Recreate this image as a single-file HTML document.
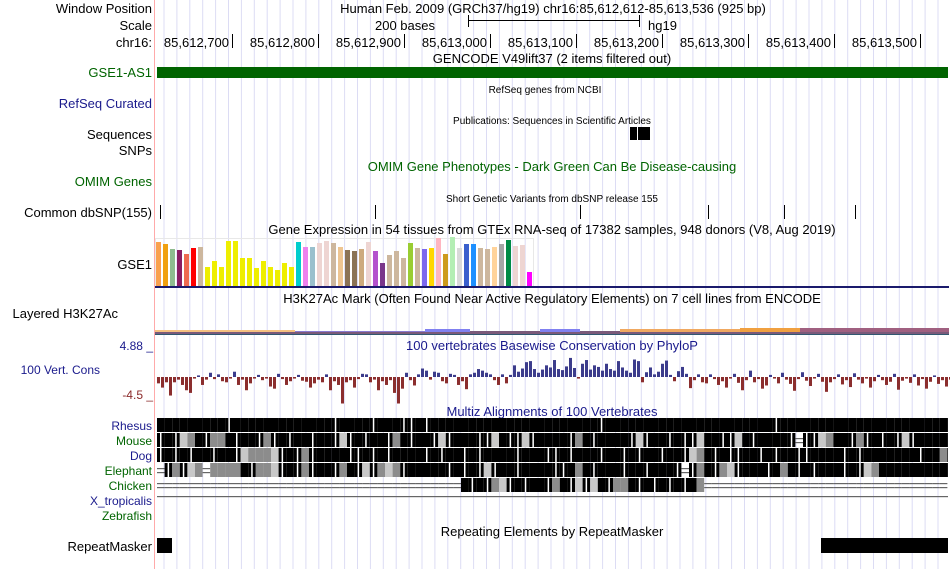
<!DOCTYPE html>
<html><head><meta charset="utf-8"><style>
body{margin:0;width:950px;height:569px;background:#fff;overflow:hidden;font-family:"Liberation Sans",sans-serif}
svg text{font-family:"Liberation Sans",sans-serif}
</style></head><body>
<svg id="g" width="950" height="569" xmlns="http://www.w3.org/2000/svg">
<g id="grid"></g>
<line x1="154.5" y1="0" x2="154.5" y2="569" stroke="#ffaaaa"/>
<g font-size="13" text-anchor="end">
<text x="152" y="13">Window Position</text>
<text x="152" y="30">Scale</text>
<text x="152" y="47">chr16:</text>
<text x="152" y="77" fill="#006400">GSE1-AS1</text>
<text x="152" y="108" fill="#1a1a8c">RefSeq Curated</text>
<text x="152" y="139">Sequences</text>
<text x="152" y="155">SNPs</text>
<text x="152" y="186" fill="#006400">OMIM Genes</text>
<text x="152" y="217">Common dbSNP(155)</text>
<text x="152" y="269">GSE1</text>
<text x="118" y="318">Layered H3K27Ac</text>
<text x="153" y="350" font-size="12" fill="#1a1a8c">4.88 _</text>
<text x="100" y="374" font-size="12" fill="#1a1a8c">100 Vert. Cons</text>
<text x="153" y="399" font-size="12" fill="#8b2a2a">-4.5 _</text>
<text x="152" y="430" font-size="12" fill="#1a1a8c">Rhesus</text>
<text x="152" y="445" font-size="12" fill="#006400">Mouse</text>
<text x="152" y="460" font-size="12" fill="#1a1a8c">Dog</text>
<text x="152" y="475" font-size="12" fill="#006400">Elephant</text>
<text x="152" y="490" font-size="12" fill="#006400">Chicken</text>
<text x="152" y="505" font-size="12" fill="#1a1a8c">X_tropicalis</text>
<text x="152" y="520" font-size="12" fill="#006400">Zebrafish</text>
<text x="152" y="551">RepeatMasker</text>
</g>
<g font-size="13" text-anchor="middle">
<text x="553" y="13">Human Feb. 2009 (GRCh37/hg19)   chr16:85,612,612-85,613,536 (925 bp)</text>
<text x="435" y="30" text-anchor="end">200 bases</text>
<text x="648" y="30" text-anchor="start">hg19</text>
<text x="552" y="63">GENCODE V49lift37 (2 items filtered out)</text>
<text x="545" y="93" font-size="10">RefSeq genes from NCBI</text>
<text x="552" y="124" font-size="10">Publications: Sequences in Scientific Articles</text>
<text x="552" y="171" fill="#006400">OMIM Gene Phenotypes - Dark Green Can Be Disease-causing</text>
<text x="552" y="202" font-size="10">Short Genetic Variants from dbSNP release 155</text>
<text x="552" y="234">Gene Expression in 54 tissues from GTEx RNA-seq of 17382 samples, 948 donors (V8, Aug 2019)</text>
<text x="552" y="303">H3K27Ac Mark (Often Found Near Active Regulatory Elements) on 7 cell lines from ENCODE</text>
<text x="552" y="350" fill="#1a1a8c">100 vertebrates Basewise Conservation by PhyloP</text>
<text x="552" y="416" fill="#1a1a8c">Multiz Alignments of 100 Vertebrates</text>
<text x="552" y="536">Repeating Elements by RepeatMasker</text>
</g>
<line x1="468" y1="20.5" x2="640" y2="20.5" stroke="#000"/>
<line x1="468.5" y1="15" x2="468.5" y2="27" stroke="#000"/>
<line x1="639.5" y1="15" x2="639.5" y2="27" stroke="#000"/>
<g id="ruler" font-size="13" text-anchor="end"></g>
<rect x="157" y="67" width="791" height="11" fill="#006400"/>
<rect x="630" y="127" width="20" height="13" fill="#000"/>
<line x1="637.5" y1="127" x2="637.5" y2="140" stroke="#fff"/>
<g id="snps"></g>
<rect x="155.5" y="238.5" width="378" height="49" fill="none" stroke="#e8e8e8"/>
<g id="gtex"></g>
<rect x="155" y="286" width="794" height="2" fill="#1a1a6c"/>
<g>
<rect x="155" y="331" width="794" height="3" fill="#7a5a7a"/>
<rect x="155" y="330" width="140" height="2" fill="#f5c080"/>
<rect x="295" y="331" width="130" height="1" fill="#8a7ad0"/>
<rect x="425" y="329" width="45" height="3" fill="#8080f0"/>
<rect x="540" y="329" width="40" height="3" fill="#8080f0"/>
<rect x="620" y="329" width="120" height="3" fill="#f0a860"/>
<rect x="740" y="328" width="60" height="4" fill="#f0a040"/>
<rect x="800" y="328" width="149" height="4" fill="#a06080"/>
<rect x="155" y="334" width="794" height="1" fill="#305870"/>
</g>
<g id="cons"></g>
<g id="multiz"></g>
<rect x="157" y="538" width="15" height="15" fill="#000"/>
<rect x="821" y="538" width="127" height="15" fill="#000"/>
</svg>
<script>
const NS="http://www.w3.org/2000/svg";
function mk(p,t,a){const e=document.createElementNS(NS,t);for(const k in a)e.setAttribute(k,a[k]);p.appendChild(e);return e;}
const grid=document.getElementById('grid');
for(let x=164;x<950;x+=12.9){const l=mk(grid,'line',{x1:x,y1:0,x2:x,y2:569,stroke:'#dcdcf4'});

}
const rulerLabels=["85,612,700","85,612,800","85,612,900","85,613,000","85,613,100","85,613,200","85,613,300","85,613,400","85,613,500"];
const rulerPos=[700,800,900,1000,1100,1200,1300,1400,1500];
const bpX=v=>232+(v-700)*0.86;
const ruler=document.getElementById('ruler');
rulerLabels.forEach((s,i)=>{const x=bpX(rulerPos[i]);
const t=mk(ruler,'text',{x:x-3,y:47});t.textContent=s;


const l=mk(ruler,'line',{x1:x+0.5,y1:34,x2:x+0.5,y2:48,stroke:'#000'});

});
const snpPos=[160,375,580,708,784,855];
const sg=document.getElementById('snps');
snpPos.forEach(x=>{const l=mk(sg,'line',{x1:x+0.5,y1:205,x2:x+0.5,y2:219,stroke:'#000'});

});
const gtexValues=[44,42,37,36,32,38,39,19,25,19,45,45,28,28,18,25,19,16,23,19,44,39,39,43,45,43,39,36,35,37,44,35,23,31,35,28,43,38,37,38,48,32,49,38,42,42,38,37,39,42,46,40,41,14];
const gtexColors=["#f9a04e","#f0a010","#8fbc8f","#8b1c62","#ee6a50","#ff0000","#cdb79e","#eeee00","#eeee00","#eeee00","#eeee00","#eeee00","#eeee00","#eeee00","#eeee00","#eeee00","#eeee00","#eeee00","#eeee00","#eeee00","#00cdcd","#ee82ee","#9ac0cd","#eed5d2","#eed5d2","#cdb79e","#eec591","#8b7355","#8b7355","#cdaa7d","#eed5d2","#b452cd","#7a378b","#cdb79e","#cdb79e","#cdb79e","#9acd32","#cdb79e","#7b68ee","#ffd700","#ffb6c1","#cd9b1d","#b4eeb4","#d9d9d9","#3a5fcd","#1e90ff","#cdb79e","#cdb79e","#ffd39b","#a6a6a6","#008b45","#eed5d2","#eed5d2","#ff00ff"];
const gX=i=>156+i*7.0, gY=v=>286-v;
const gg=document.getElementById('gtex');
gtexValues.forEach((v,i)=>{const r=mk(gg,'rect',{x:gX(i),y:gY(v),width:5,height:v,fill:gtexColors[i]});

});
const consValues=[-1.2,-2,-1,-3.5,-1,-0.5,-1.5,-2.5,-3,-0.3,0.3,-1.5,-0.5,0.8,-0.4,0.5,-0.8,-1,-0.3,1,-1.5,-0.5,-2.5,-1.2,-0.3,0.4,-0.6,-0.3,-1.8,-2.2,0.6,-0.4,-1.5,-0.8,-0.3,0.4,-0.7,-0.9,-2,-1.2,-0.5,-1,0.5,-2.5,-0.8,-1.5,-5,-1,-0.6,-2,-0.4,0.6,0.5,-1,-0.5,-2.5,-0.8,-1.5,-0.6,-3,-5,-2.2,0.8,-0.6,-1.6,0.5,1.6,1.2,-0.5,1.0,0.8,-0.8,-1.2,0.6,0.4,-1.5,-0.8,-2.3,0.5,0.8,1.5,1.2,0.8,0.5,-0.6,-1.5,0.5,-1.2,0.4,2.2,1.0,1.6,2.8,3.0,1.5,0.8,1.4,2.2,1.8,3.2,1.5,1.3,2.0,3.6,1.7,-0.3,2.5,3.2,1.4,2.2,1.9,1.2,2.5,1.5,1.2,3.0,1.8,1.2,0.8,3.3,3.0,-1.0,0.9,1.8,0.5,1.0,2.5,3.1,0.4,-0.8,1.1,1.9,0.6,-2.1,-0.6,0.5,-1.0,-1.2,0.5,-0.4,-1.5,-0.8,-2.0,-0.3,0.6,-1.1,-2.5,-0.6,1.2,-1.0,-0.4,-2.2,-1.6,0.4,-0.3,-1.2,0.8,-0.5,-1.3,-2.6,-0.4,0.9,-0.7,-1.7,-0.3,0.6,-0.9,-2.8,-1.0,-0.4,0.5,-1.4,-0.6,-1.9,0.7,-0.5,-1.2,-0.3,-2.0,-0.8,0.4,-0.6,-1.5,-0.9,0.6,-2.4,-0.7,-0.3,-1.1,0.5,-1.6,-0.4,-2.2,-0.9,0.3,-1.3,-0.6,-1.8,-0.5,0.6,-1.0,-0.4,-1.7];
const cX=i=>157+i*4, cY=v=>377-v*5.3;
const cg=document.getElementById('cons');
consValues.forEach((v,i)=>{const y0=cY(0),y1=cY(v);
const r=mk(cg,'rect',{x:cX(i),y:Math.min(y0,y1),width:3,height:Math.max(1,Math.abs(y1-y0)),fill:v>=0?'#3c3c8c':'#8b2e2e'});

});
const rhesusRow="bbbbbbbbbwbbbbbbbbbbbbbwbbbbwbbbwwbwbbbbbbbbbbbbbbbbbbbbbbwbbbbbbbbbbbbbbbbbbbbbbwbbbbbbbbbbbbbbbbbbbbbbbbbbb";
const mouseRow ="wbwlgbwggbwbbwgwbwbbwbbwlwbwbbwgbwbbwlwbbbwwlbwwlwbbbbwgbwbbbbwlwbbwbwwlbbwwlbwbbbbw-wwlgbbwgwbwbwlwbbbbbbg-----b";
const dogRow   ="wbwbwbbwbbwlggglwbwgwbbbbwwbwbwbbbbwbwbbwbwbbbbwbbbwwbwbbbwbbwbwbbwbbwlgbwbwwbbwbwbbwwbbbbwbwbbbbbbbwbbgbbw";
const elephantRow="-wgwlg-ggggbwgglwbwgwbbwgbwlwglgwbbbbbwbwbwlwbbwbbbbwwbgbwbbbwbbwbbbw-wgbwglwbbbwbgbwbwbbbwbwlgbbbbbbbbbwb";
const chickenRow="----------------------------------------bwbwglwbwbbwgbwlwlbwggbwbwbwbwbg--------------------------------";
const mRows=[[rhesusRow,418],[mouseRow,433],[dogRow,448],[elephantRow,463],[chickenRow,478]];
const mg=document.getElementById('multiz');
mRows.forEach(([row,y])=>{for(let i=0;i<row.length;i++){const c=row[i],x=157+i*7.6;if(x>948)break;const w=Math.min(7.6,948-x);
let e;
if(c==='-'){e=mk(mg,'rect',{x:x,y:y+5,width:w,height:1.2,fill:'#666'});mk(mg,'rect',{x:x,y:y+9,width:w,height:1.2,fill:'#666'});}
else if(c==='b'){e=mk(mg,'rect',{x:x,y:y,width:w,height:14,fill:'#000'});}
else if(c==='g'){e=mk(mg,'rect',{x:x,y:y,width:w,height:14,fill:'#8c8c8c'});}
else if(c==='l'){e=mk(mg,'rect',{x:x,y:y,width:w,height:14,fill:'#c8c8c8'});}
else if(c==='w'){e=mk(mg,'rect',{x:x,y:y,width:w,height:14,fill:'#000'});mk(mg,'rect',{x:x+3,y:y,width:1.5,height:14,fill:'#fff'});}
if(e){
}}});
const xl=mk(mg,'rect',{x:157,y:496,width:791,height:1.2,fill:'#666'});


</script>
</body></html>
